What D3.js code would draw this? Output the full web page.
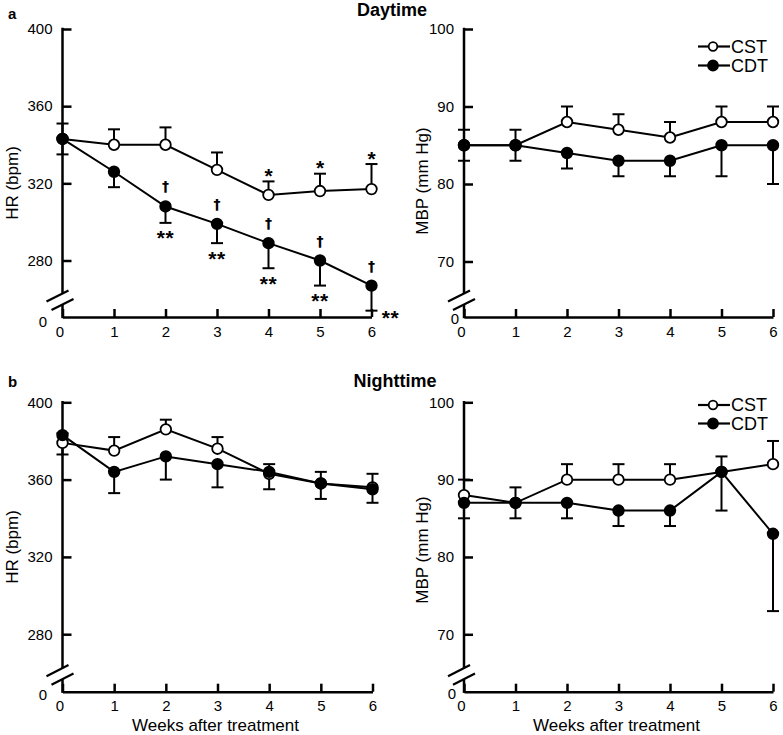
<!DOCTYPE html>
<html><head><meta charset="utf-8">
<script src="https://cdn.jsdelivr.net/npm/d3@7"></script>
<style>
body{margin:0;background:#fff}
svg{display:block}
text{font-family:Arial,"Liberation Sans",Helvetica,sans-serif;fill:#000}
</style>
</head><body>
<svg id="c" width="783" height="735"></svg>
<script>
// ---------- data ----------
const weeks = [0, 1, 2, 3, 4, 5, 6];
const seriesNames = ["CST", "CDT"];

const hrDayCST     = [343, 340, 340, 327, 314, 316, 317];
const hrDayCSTErr  = [8, 8, 9, 9, 7, 9, 13];
const hrDayCDT     = [343, 326, 308, 299, 289, 280, 267];
const hrDayCDTErr  = [8, 8, 8.5, 10, 13, 13, 13];

const mbpDayCST    = [85, 85, 88, 87, 86, 88, 88];
const mbpDayCSTErr = [2, 2, 2, 2, 2, 2, 2];
const mbpDayCDT    = [85, 85, 84, 83, 83, 85, 85];
const mbpDayCDTErr = [2, 2, 2, 2, 2, 4, 5];

const hrNightCST     = [379, 375, 386, 376, 363, 358, 356];
const hrNightCSTErr  = [5, 7, 5, 6, 5, 6, 7];
const hrNightCDT     = [383, 364, 372, 368, 364, 358, 355];
const hrNightCDTErr  = [10, 11, 12, 12, 9, 8, 7];

const mbpNightCST    = [88, 87, 90, 90, 90, 91, 92];
const mbpNightCSTErr = [2, 2, 2, 2, 2, 2, 3];
const mbpNightCDT    = [87, 87, 87, 86, 86, 91, 83];
const mbpNightCDTErr = [2, 2, 2, 2, 2, 5, 10];

const hrTicks  = [280, 320, 360, 400];
const mbpTicks = [70, 80, 90, 100];

// significance marks (daytime HR)
const cstStarWeeks       = [4, 5, 6];      // "*"  vs week 0 (CST)
const cdtDaggerWeeks     = [2, 3, 4, 5, 6]; // "†"  CDT vs CST
const cdtDoubleStarWeeks = [2, 3, 4, 5, 6]; // "**" vs week 0 (CDT)

// ---------- drawing ----------
const FONT = 'Arial, "Liberation Sans", Helvetica, sans-serif';
const svg = d3.select("#c");

const panels = [
  {x0: 62.5, x6: 371.5, yTop: 29, yLow: 260.5, axisY: 317, ticks: hrTicks,
   cst: hrDayCST, cstErr: hrDayCSTErr, cdt: hrDayCDT, cdtErr: hrDayCDTErr,
   ylabel: "HR (bpm)", ylx: 12, yly: 183, zx: 43, zy: 322, legend: null, ann: true, xlabel: false},
  {x0: 464, x6: 773, yTop: 29, yLow: 261.5, axisY: 317, ticks: mbpTicks,
   cst: mbpDayCST, cstErr: mbpDayCSTErr, cdt: mbpDayCDT, cdtErr: mbpDayCDTErr,
   ylabel: "MBP (mm Hg)", ylx: 422, yly: 181, zx: 455, zy: 319, legend: {x: 698, y1: 46.5, y2: 65.5}, ann: false, xlabel: false},
  {x0: 62.5, x6: 372.5, yTop: 402.3, yLow: 634.2, axisY: 691.7, ticks: hrTicks,
   cst: hrNightCST, cstErr: hrNightCSTErr, cdt: hrNightCDT, cdtErr: hrNightCDTErr,
   ylabel: "HR (bpm)", ylx: 12, yly: 547, zx: 43, zy: 695, legend: null, ann: false, xlabel: true},
  {x0: 464, x6: 773, yTop: 402.3, yLow: 634.3, axisY: 691.7, ticks: mbpTicks,
   cst: mbpNightCST, cstErr: mbpNightCSTErr, cdt: mbpNightCDT, cdtErr: mbpNightCDTErr,
   ylabel: "MBP (mm Hg)", ylx: 422, yly: 550, zx: 452, zy: 694, legend: {x: 698, y1: 405, y2: 423.5}, ann: false, xlabel: true}
];

function drawPanel(p) {
  const x = d3.scaleLinear().domain([0, 6]).range([p.x0, p.x6]);
  const y = d3.scaleLinear().domain([p.ticks[0], p.ticks[p.ticks.length - 1]]).range([p.yLow, p.yTop]);
  const g = svg.append("g");
  const AX = 2.5;

  // x axis
  const xa = g.append("g").attr("transform", `translate(0,${p.axisY})`)
    .call(d3.axisBottom(x).tickValues(weeks).tickFormat(d3.format("d"))
      .tickSizeInner(-8).tickSizeOuter(0).tickPadding(9));
  xa.attr("font-size", 15).attr("font-family", FONT);
  xa.select(".domain").attr("stroke-width", AX).attr("stroke", "#000");
  xa.selectAll(".tick line").attr("stroke-width", AX).attr("stroke", "#000");
  xa.selectAll(".tick text").attr("fill", "#000").attr("dx", d => d === 0 ? -3 : 0);

  // y axis (ticks inward, labels outside)
  const ya = g.append("g").attr("transform", `translate(${p.x0},0)`)
    .call(d3.axisLeft(y).tickValues(p.ticks).tickSizeInner(-9).tickSizeOuter(0).tickPadding(10));
  ya.attr("font-size", 15).attr("font-family", FONT);
  ya.select(".domain").remove();
  ya.selectAll(".tick line").attr("stroke-width", AX).attr("stroke", "#000");
  ya.selectAll(".tick text").attr("fill", "#000");

  // axis line with break
  const ax = p.x0;
  const b1 = p.axisY - 23.5, b2 = p.axisY - 12.5;
  g.append("line").attr("x1", ax).attr("x2", ax).attr("y1", y(p.ticks[p.ticks.length - 1]) - 1.2).attr("y2", b1)
    .attr("stroke", "#000").attr("stroke-width", AX);
  g.append("line").attr("x1", ax).attr("x2", ax).attr("y1", b2).attr("y2", p.axisY + 1.2)
    .attr("stroke", "#000").attr("stroke-width", AX);
  [[ax - 5, p.axisY - 21], [ax, p.axisY - 12.5]].forEach(([cx, cy]) => {
    g.append("line").attr("x1", cx - 11).attr("y1", cy + 5.6).attr("x2", cx + 11).attr("y2", cy - 5.6)
      .attr("stroke", "#000").attr("stroke-width", 2.2);
  });
  g.append("text").attr("x", p.zx).attr("y", p.zy).attr("dy", "0.35em").attr("text-anchor", "middle")
    .attr("font-size", 15).text("0");

  // y label
  g.append("text").attr("transform", `translate(${p.ylx},${p.yly}) rotate(-90)`)
    .attr("text-anchor", "middle").attr("dy", "0.35em").attr("font-size", 17).text(p.ylabel);
  if (p.xlabel) {
    g.append("text").attr("x", (p.x0 + p.x6) / 2 - 2).attr("y", 730.5)
      .attr("text-anchor", "middle").attr("font-size", 17).text("Weeks after treatment");
  }

  const line = d3.line().x((d, i) => x(weeks[i])).y(d => y(d));
  const series = [
    {vals: p.cst, err: p.cstErr, dir: 1, fill: "#fff"},
    {vals: p.cdt, err: p.cdtErr, dir: -1, fill: "#000"}
  ];
  // error bars
  series.forEach(s => {
    s.vals.forEach((v, i) => {
      const yy = y(v + s.dir * s.err[i]);
      const xx = x(weeks[i]);
      g.append("line").attr("x1", xx).attr("x2", xx).attr("y1", y(v)).attr("y2", yy)
        .attr("stroke", "#000").attr("stroke-width", 2);
      g.append("line").attr("x1", xx - 6).attr("x2", xx + 6).attr("y1", yy).attr("y2", yy)
        .attr("stroke", "#000").attr("stroke-width", 2);
    });
  });
  // lines
  series.forEach(s => {
    g.append("path").datum(s.vals).attr("d", line).attr("fill", "none")
      .attr("stroke", "#000").attr("stroke-width", 2);
  });
  // markers
  series.forEach(s => {
    g.selectAll(null).data(s.vals).enter().append("circle")
      .attr("cx", (d, i) => x(weeks[i])).attr("cy", d => y(d)).attr("r", 5.3)
      .attr("fill", s.fill).attr("stroke", "#000").attr("stroke-width", 1.8);
  });

  // significance annotations
  if (p.ann) {
    cstStarWeeks.forEach(w => {
      const cap = y(p.cst[w] + p.cstErr[w]);
      g.append("text").attr("x", x(w)).attr("y", cap - 10 + 11.5).attr("text-anchor", "middle")
        .attr("font-size", 21).attr("font-weight", "bold").text("*");
    });
    cdtDaggerWeeks.forEach(w => {
      g.append("text").attr("x", x(w)).attr("y", y(p.cdt[w]) - 19 + 4).attr("text-anchor", "middle")
        .attr("font-size", 14).attr("font-weight", "bold").style("font-family", '"DejaVu Sans", Arial, sans-serif')
        .text("\u2020");
    });
    cdtDoubleStarWeeks.forEach(w => {
      const cap = y(p.cdt[w] - p.cdtErr[w]);
      const last = w === weeks[weeks.length - 1];
      g.append("text").attr("x", last ? x(w) + 19 : x(w)).attr("y", last ? cap + 3 + 11.5 : cap + 11 + 11.5)
        .attr("text-anchor", "middle").attr("font-size", 21).attr("font-weight", "bold")
        .attr("letter-spacing", 0.5).text("**");
    });
  }

  // legend
  if (p.legend) {
    const L = p.legend;
    [L.y1, L.y2].forEach((ly, k) => {
      g.append("line").attr("x1", L.x).attr("x2", L.x + 32).attr("y1", ly).attr("y2", ly)
        .attr("stroke", "#000").attr("stroke-width", 2.2);
      g.append("circle").attr("cx", L.x + 15).attr("cy", ly).attr("r", k === 0 ? 4.3 : 5)
        .attr("fill", k === 0 ? "#fff" : "#000").attr("stroke", "#000").attr("stroke-width", 1.8);
      g.append("text").attr("x", L.x + 33).attr("y", ly).attr("dy", "0.35em")
        .attr("font-size", 18).text(seriesNames[k]);
    });
  }
}

panels.forEach(drawPanel);

svg.append("text").attr("x", 392).attr("y", 15.5).attr("text-anchor", "middle")
  .attr("font-size", 18).attr("font-weight", "bold").text("Daytime");
svg.append("text").attr("x", 395).attr("y", 386.5).attr("text-anchor", "middle")
  .attr("font-size", 18).attr("font-weight", "bold").text("Nighttime");
svg.append("text").attr("x", 8).attr("y", 19)
  .attr("font-size", 15).attr("font-weight", "bold").text("a");
svg.append("text").attr("x", 8).attr("y", 387)
  .attr("font-size", 15).attr("font-weight", "bold").text("b");
</script>
</body></html>
